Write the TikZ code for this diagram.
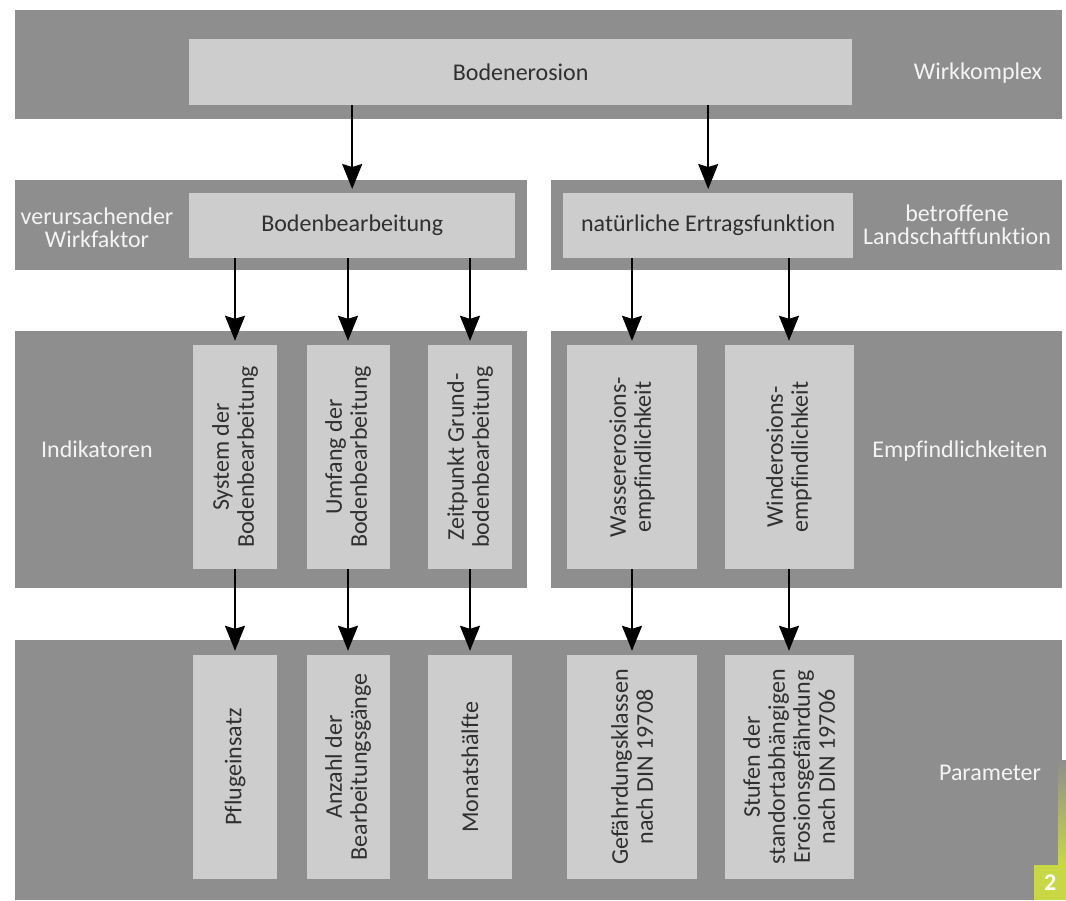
\documentclass[tikz,border=0pt]{standalone}
\usepackage{fontspec}
\setmainfont{Carlito}[Ligatures=NoCommon]
\usetikzlibrary{arrows.meta,positioning}

\definecolor{bandgray}{HTML}{8E8E8E}
\definecolor{boxgray}{HTML}{CDCDCD}
\definecolor{labelwhite}{HTML}{F4F4F4}
\definecolor{boxtext}{HTML}{303030}
\definecolor{badgegreen}{HTML}{C8D845}

\begin{document}
\begin{tikzpicture}[x=1pt,y=-1pt]
    % levels: wirkkomplex / wirkfaktor / indikatoren / parameter
    % - grey bands in the back, light boxes on top
    % - labels of the levels at the sides
    \tikzset{band/.style = {shape=rectangle,fill=bandgray,inner sep=0,anchor=north west}}
    \tikzset{hbox/.style = {shape=rectangle,fill=boxgray,inner sep=0,anchor=north west,
        text=boxtext,font=\fontsize{24}{25}\selectfont}}
    \tikzset{vbox/.style = {shape=rectangle,fill=boxgray,inner sep=0,rotate=90,align=center,
        minimum width=224pt,text=boxtext,font=\fontsize{24}{25}\selectfont}}
    \tikzset{side/.style = {align=center,text=labelwhite,font=\fontsize{24}{23}\selectfont}}
    \tikzset{pre/.style = {-{Stealth[length=25pt,width=20pt,inset=3pt]},line width=1.8pt,shorten >=4pt}}

    \useasboundingbox (0,0) rectangle (1066,900);

    % bands
    \node[band,minimum width=1047pt,minimum height=109pt] (bandtop) at (15,10) {};
    \node[band,minimum width=512pt,minimum height=90pt]   (bandfl)  at (15,180) {};
    \node[band,minimum width=511pt,minimum height=90pt]   (bandfr)  at (551,180) {};
    \node[band,minimum width=512pt,minimum height=257pt]  (bandil)  at (15,331) {};
    \node[band,minimum width=511pt,minimum height=257pt]  (bandir)  at (551,331) {};
    \node[band,minimum width=1047pt,minimum height=260pt] (bandpar) at (15,640) {};

    % wirkkomplex
    \node[hbox,minimum width=663pt,minimum height=66pt] (ero) at (189,39) {Bodenerosion};
    \node[side] (komplex) at (978,73) {Wirkkomplex};

    % wirkfaktor / landschaftsfunktion
    \node[hbox,minimum width=326pt,minimum height=65pt] (bear) at (189,193) {Bodenbearbeitung};
    \node[hbox,minimum width=290pt,minimum height=65pt] (ertrag) at (563,193) {natürliche Ertragsfunktion};
    \node[side] (faktor) at (97,228) {verursachender\\Wirkfaktor};
    \node[side] (landschaft) at (957,225) {betroffene\\Landschaftfunktion};
    \draw[pre] (ero.south -| bear.north) -- (bear.north);
    \draw[pre] (ero.south -| ertrag.north) -- (ertrag.north);

    % indikatoren
    \node[vbox,minimum height=84pt]  (sys)   at (235,457) {System der\\Bodenbearbeitung};
    \node[vbox,minimum height=83pt]  (umf)   at (348,457) {Umfang der\\Bodenbearbeitung};
    \node[vbox,minimum height=84pt]  (zeit)  at (470,457) {Zeitpunkt Grund-\\bodenbearbeitung};
    \node[vbox,minimum height=130pt] (wass)  at (632,457) {Wassererosions-\\empfindlichkeit};
    \node[vbox,minimum height=129pt] (wind)  at (789,457) {Winderosions-\\empfindlichkeit};
    \node[side] (indik) at (97,449) {Indikatoren};
    \node[side] (empf)  at (960,451) {Empfindlichkeiten};
    \draw[pre] (bear.south -| sys.center) -- (sys.east);
    \draw[pre] (bear.south -| umf.center) -- (umf.east);
    \draw[pre] (bear.south -| zeit.center) -- (zeit.east);
    \draw[pre] (ertrag.south -| wass.center) -- (wass.east);
    \draw[pre] (ertrag.south -| wind.center) -- (wind.east);

    % parameter
    \node[vbox,minimum height=84pt]  (pflug)  at (235,767) {Pflugeinsatz};
    \node[vbox,minimum height=83pt]  (anz)    at (348,767) {Anzahl der\\Bearbeitungsgänge};
    \node[vbox,minimum height=84pt]  (monat)  at (470,767) {Monatshälfte};
    \node[vbox,minimum height=130pt] (gefkl)  at (632,767) {Gefährdungsklassen\\nach DIN 19708};
    \node[vbox,minimum height=129pt] (stufen) at (789,767) {Stufen der\\standortabhängigen\\Erosionsgefährdung\\nach DIN 19706};
    \node[side] (param) at (990,773) {Parameter};
    \draw[pre] (sys.west) -- (pflug.east);
    \draw[pre] (umf.west) -- (anz.east);
    \draw[pre] (zeit.west) -- (monat.east);
    \draw[pre] (wass.west) -- (gefkl.east);
    \draw[pre] (wind.west) -- (stufen.east);

    % figure number
    \shade[top color=bandgray,bottom color=badgegreen] (1058,760) rectangle (1066,865);
    \node[fill=badgegreen,anchor=north west,minimum width=32pt,minimum height=35pt,inner sep=0,
        text=white,font=\fontsize{24}{24}\bfseries\selectfont] (nr) at (1034,865) {2};
\end{tikzpicture}
\end{document}
